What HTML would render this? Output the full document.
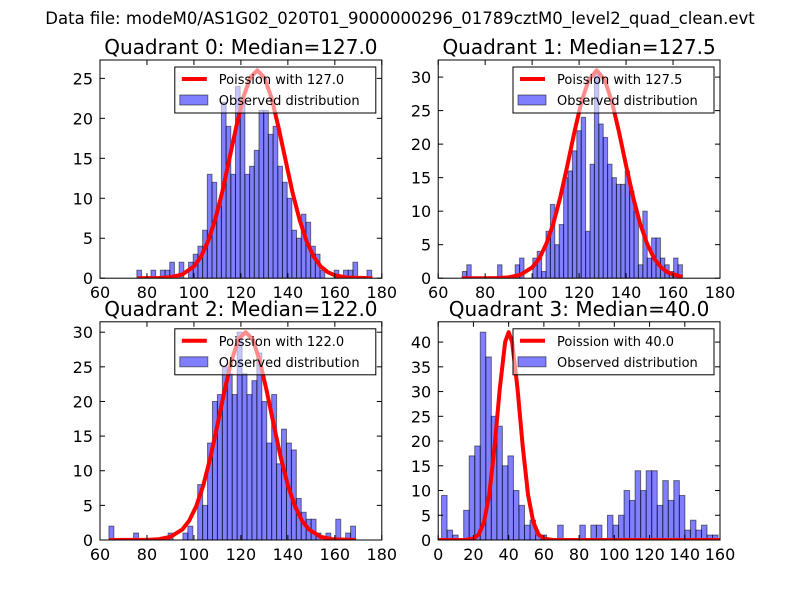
<!DOCTYPE html>
<html><head><meta charset="utf-8"><style>
html,body{margin:0;padding:0;background:#fff}
svg{display:block;font-family:"DejaVu Sans","Liberation Sans",sans-serif}
</style></head><body>
<svg id="fig" width="800" height="600" viewBox="0 0 800 600">
<rect width="800" height="600" fill="#fff"/>
<text x="400" y="24" font-size="16.5" text-anchor="middle">Data file: modeM0/AS1G02_020T01_9000000296_01789cztM0_level2_quad_clean.evt</text>
</svg>
<script>
// Quadrant 0
const q0Counts=[1,0,0,1,0,1,1,2,0,2,0,2,3,4,6,13,12,9,22,19,13,24,22,13,14,16,21,21,18,19,14,12,10,6,5,8,7,4,3,1,0,0,1,0,1,1,2,0,0,1];
const q0CurveX=[76,85,90,95,100,103,106,109,112,115,118,121,124,127,130,133,136,139,142,145,148,151,154,157,160,165,176];
const q0CurveY=[0,0.03,0.12,0.46,1.47,2.7,4.6,7.3,10.7,14.8,18.9,22.6,25.1,26,25.1,22.6,18.9,14.8,10.7,7.3,4.6,2.7,1.47,0.75,0.36,0.09,0];
// Quadrant 1
const q1Counts=[1,2,0,0,0,0,0,0,2,0,0,0,2,3,0,0,3,4,1,7,11,5,8,15,16,19,22,24,7,17,31,23,21,17,15,14,14,16,13,10,2,10,3,6,6,3,2,1,3,2];
const q1CurveX=[70,80,85,90,95,100,103,106,109,112,115,118,121,124,127.5,131,134,137,140,143,146,149,152,155,158,164];
const q1CurveY=[0,0,0.03,0.13,0.5,1.6,2.9,5.1,8.1,12.1,16.8,21.8,26.3,29.5,31,29.5,26.3,21.8,16.8,12.1,8.1,5.1,2.9,1.6,0.8,0.17];
// Quadrant 2
const q2Counts=[2,0,0,0,0,1,0,0,0,0,0,0,1,0,0,1,2,0,8,5,14,20,21,25,24,21,30,24,21,23,27,20,14,21,11,16,14,13,6,4,3,3,1,0,1,0,3,0,1,2];
const q2CurveX=[64,80,85,90,95,98,101,104,107,110,113,116,119,122,125,128,131,134,137,140,143,146,149,154,159,169];
const q2CurveY=[0,0.02,0.11,0.45,1.5,2.8,4.9,7.9,11.9,16.6,21.5,25.9,29,30,29,25.9,21.5,16.6,11.9,7.9,4.9,2.8,1.5,0.45,0.11,0];
// Quadrant 3
const q3Counts=[9,2,1,0,6,17,19,42,37,25,23,15,17,10,7,3,4,1,1,0,0,3,0,0,0,3,0,3,3,0,5,3,5,10,8,14,10,14,14,7,12,8,12,9,2,4,2,3,1,1];
const q3CurveX=[0,15,20,23,26,29,32,35,38,40,42,45,48,51,54,57,60,65,160];
const q3CurveY=[0,0,0.28,1.1,3.6,9.2,18.9,30.7,40,42,40,30.7,18.9,9.2,3.6,1.1,0.28,0,0];

const titles=["Quadrant 0: Median=127.0","Quadrant 1: Median=127.5","Quadrant 2: Median=122.0","Quadrant 3: Median=40.0"];
const legendLabels=["Poission with 127.0","Poission with 127.5","Poission with 122.0","Poission with 40.0"];
const xTicks012=[60,80,100,120,140,160,180];
const xTicks3=[0,20,40,60,80,100,120,140,160];
const yTicks0=[0,5,10,15,20,25];
const yTicks12=[0,5,10,15,20,25,30];
const yTicks3=[0,5,10,15,20,25,30,35,40];

const NS="http://www.w3.org/2000/svg";
const fig=document.getElementById('fig');
function mk(tag,attrs,parent){const e=document.createElementNS(NS,tag);for(const k in attrs)e.setAttribute(k,attrs[k]);(parent||fig).appendChild(e);return e;}

const panels=[
 {L:100,R:381.8,T:60,B:278.2,xmin:60,xmax:180,bin0:75.7,bw:2.0,ymax:27.3,counts:q0Counts,cx:q0CurveX,cy:q0CurveY,xt:xTicks012,yt:yTicks0},
 {L:438.2,R:720,T:60,B:278.2,xmin:60,xmax:180,bin0:70.3,bw:1.874,ymax:32.55,counts:q1Counts,cx:q1CurveX,cy:q1CurveY,xt:xTicks012,yt:yTicks12},
 {L:100,R:381.8,T:321.8,B:540,xmin:60,xmax:180,bin0:63.8,bw:2.1,ymax:31.5,counts:q2Counts,cx:q2CurveX,cy:q2CurveY,xt:xTicks012,yt:yTicks12},
 {L:438.2,R:720,T:321.8,B:540,xmin:0,xmax:160,bin0:1.9,bw:3.14,ymax:44.1,counts:q3Counts,cx:q3CurveX,cy:q3CurveY,xt:xTicks3,yt:yTicks3}
];

panels.forEach((p,qi)=>{
  const g=mk('g',{});
  
  
  const sx=v=>p.L+(v-p.xmin)/(p.xmax-p.xmin)*(p.R-p.L);
  const sy=v=>p.B-v/p.ymax*(p.B-p.T);
  const cid='clip'+qi;
  const cp=mk('clipPath',{id:cid},g);mk('rect',{x:p.L,y:p.T,width:p.R-p.L,height:p.B-p.T},cp);
  const plot=mk('g',{'clip-path':'url(#'+cid+')'},g);
  p.counts.forEach((c,i)=>{
    if(c<=0)return;
    const x0=sx(p.bin0+i*p.bw),x1=sx(p.bin0+(i+1)*p.bw);
    const r=mk('rect',{x:x0,y:sy(c),width:x1-x0,height:sy(0)-sy(c),fill:'rgba(0,0,255,0.5)',stroke:'rgba(0,0,0,0.5)','stroke-width':1},plot);
    
    
  });
  const pts=p.cx.map((x,i)=>sx(x).toFixed(2)+','+sy(p.cy[i]).toFixed(2)).join(' ');
  const pl=mk('polyline',{points:pts,fill:'none',stroke:'#ff0000','stroke-width':4,'stroke-linejoin':'round'},plot);
  
  
  const fr=mk('rect',{x:p.L,y:p.T,width:p.R-p.L,height:p.B-p.T,fill:'none',stroke:'#000','stroke-width':1},g);
  
  
  p.xt.forEach(t=>{
    const x=sx(t);
    mk('line',{x1:x,y1:p.B,x2:x,y2:p.B-5,stroke:'#000'},g);
    mk('line',{x1:x,y1:p.T,x2:x,y2:p.T+5,stroke:'#000'},g);
    const tx=mk('text',{x:x,y:p.B+20,'font-size':16,'text-anchor':'middle'},g);
    tx.textContent=t;
    
    
  });
  p.yt.forEach(t=>{
    const y=sy(t);
    mk('line',{x1:p.L,y1:y,x2:p.L+5,y2:y,stroke:'#000'},g);
    mk('line',{x1:p.R,y1:y,x2:p.R-5,y2:y,stroke:'#000'},g);
    const tx=mk('text',{x:p.L-7,y:y+6,'font-size':16,'text-anchor':'end'},g);
    tx.textContent=t;
    
    
  });
  const ti=mk('text',{x:(p.L+p.R)/2,y:p.T-6,'font-size':20,'text-anchor':'middle'},g);
  ti.textContent=titles[qi];
  
  
  const lg=mk('g',{},g);
  
  
  const lx=p.R-207,ly=p.T+7;
  mk('rect',{x:lx,y:ly,width:201,height:46,fill:'rgba(255,255,255,0.55)',stroke:'#000','stroke-width':1},lg);
  mk('line',{x1:lx+7,y1:ly+12,x2:lx+32,y2:ly+12,stroke:'#ff0000','stroke-width':4},lg);
  const t1=mk('text',{x:lx+44,y:ly+17,'font-size':13},lg);t1.textContent=legendLabels[qi];
  
  
  mk('rect',{x:lx+5,y:ly+28,width:28,height:10,fill:'rgba(0,0,255,0.5)',stroke:'rgba(0,0,0,0.5)'},lg);
  const t2=mk('text',{x:lx+44,y:ly+38,'font-size':13},lg);t2.textContent="Observed distribution";
  
  
});
</script>
</body></html>
